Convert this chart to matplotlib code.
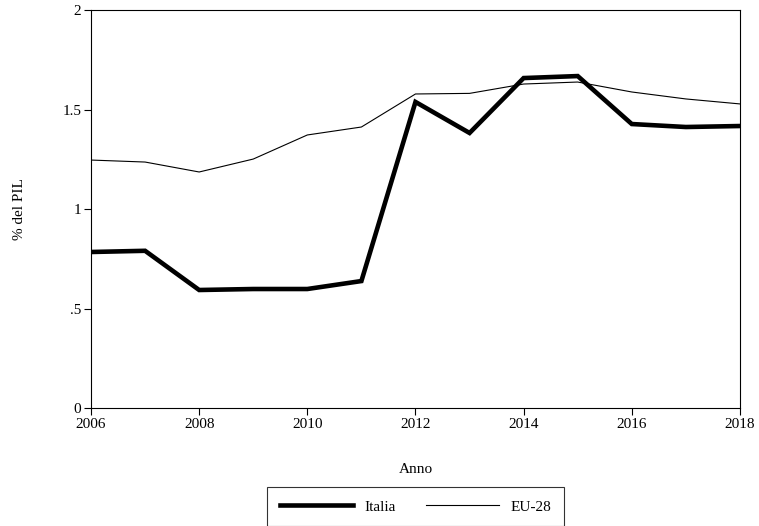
import numpy as np
import matplotlib.pyplot as plt

plt.rcParams['font.family'] = ['Liberation Serif', 'DejaVu Serif']

years = [2006, 2007, 2008, 2009, 2010, 2011, 2012, 2013, 2014, 2015, 2016, 2017, 2018]
italia = [0.784, 0.79, 0.593, 0.598, 0.598, 0.638, 1.538, 1.382, 1.658, 1.668, 1.427, 1.412, 1.417]
eu28 = [1.246, 1.236, 1.186, 1.251, 1.372, 1.412, 1.578, 1.581, 1.628, 1.638, 1.588, 1.553, 1.528]

y_ticks = [0, 0.5, 1, 1.5, 2]
y_ticklabels = ["0", ".5", "1", "1.5", "2"]
x_ticks = [2006, 2008, 2010, 2012, 2014, 2016, 2018]

fig = plt.figure(figsize=(7.59, 5.26), dpi=100)
ax = fig.add_axes([0.1199, 0.2243, 0.855, 0.7567])

ax.plot(years, italia, color='black', linewidth=3.3, solid_joinstyle='miter', label='Italia')
ax.plot(years, eu28, color='black', linewidth=0.8, label='EU-28')

ax.set_xlim(2006, 2018)
ax.set_ylim(0, 2)
ax.set_xticks(x_ticks)
ax.set_yticks(y_ticks)
ax.set_yticklabels(y_ticklabels)
ax.tick_params(direction='out', length=5, width=0.8, labelsize=11, pad=2)

for s in ax.spines.values():
    s.set_linewidth(0.8)

ax.set_xlabel("Anno", fontsize=11, labelpad=23)
ax.set_ylabel("% del PIL", fontsize=11)
ax.yaxis.set_label_coords(-0.1, 0.5)

leg = ax.legend(loc='upper center', bbox_to_anchor=(0.5, -0.198), ncol=2,
                frameon=True, fancybox=False, edgecolor='black', fontsize=11,
                handlelength=4.8, columnspacing=2.0, borderpad=0.85, handletextpad=0.7,
                borderaxespad=0)
leg.get_frame().set_linewidth(0.8)

fig.savefig("out.png", dpi=100)
